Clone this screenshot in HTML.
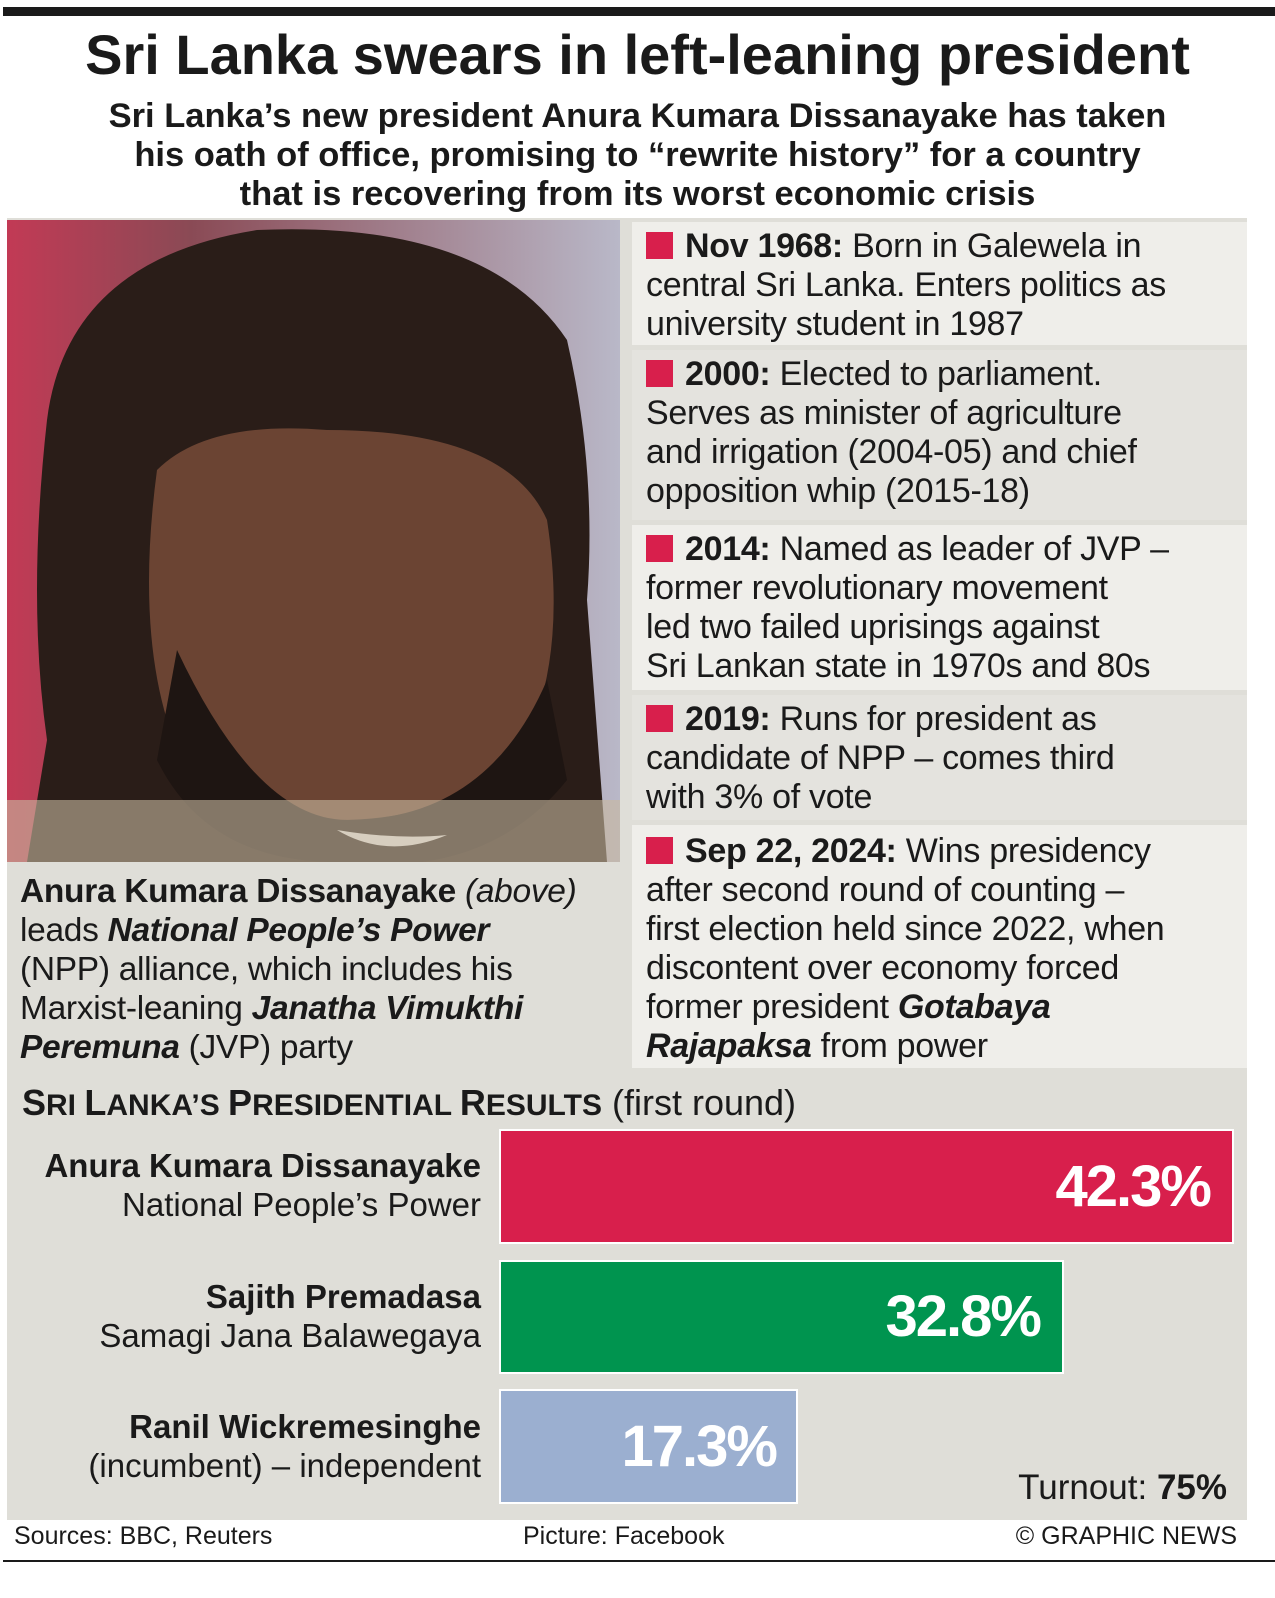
<!DOCTYPE html>
<html><head><meta charset="utf-8"><style>
body{margin:0;width:1275px;height:1598px;background:#fff;position:relative;font-family:"Liberation Sans",sans-serif;color:#1a1a1a;overflow:hidden}
.a{position:absolute}
.n{font-family:"Liberation Sans Narrow","Liberation Sans",sans-serif}
.tl{position:absolute;left:632px;width:615px;font-size:34px;line-height:39px;padding-left:14px;box-sizing:border-box;white-space:nowrap;letter-spacing:-0.3px}
.sq{display:inline-block;width:27px;height:27px;background:#d81f4c;margin-right:12px;vertical-align:-2px}
.bar{position:absolute;left:499px;border:2px solid #fff;box-sizing:border-box;color:#fff;font-weight:bold;font-size:58px;text-align:right;letter-spacing:-2px}
.lab{position:absolute;right:794px;text-align:right;font-size:33px;line-height:39px;white-space:nowrap}
</style></head><body>
<div class="a" style="left:3px;top:7px;width:1272px;height:9px;background:#1a1a1a"></div>
<div class="a n" style="left:0;top:22px;width:1275px;text-align:center;font-size:56px;font-weight:bold;line-height:66px">Sri Lanka swears in left-leaning president</div>
<div class="a n" style="left:0;top:97px;width:1275px;text-align:center;font-size:34.5px;font-weight:bold;line-height:39px">Sri Lanka’s new president Anura Kumara Dissanayake has taken<br>his oath of office, promising to “rewrite history” for a country<br>that is recovering from its worst economic crisis</div>
<div class="a" style="left:7px;top:218px;width:1240px;height:1302px;background:#dfded8"></div>
<svg class="a" style="left:7px;top:220px" width="613" height="642" viewBox="0 0 613 642">
<defs><linearGradient id="bg" x1="0" y1="0" x2="1" y2="0"><stop offset="0" stop-color="#c23a55"/><stop offset="0.3" stop-color="#8a4a55"/><stop offset="1" stop-color="#b9b8c8"/></linearGradient></defs>
<rect width="613" height="642" fill="url(#bg)"/>
<path d="M20 642 L40 520 Q20 380 40 200 Q60 40 250 10 Q480 0 560 120 Q590 250 580 380 L600 642Z" fill="#2a1d18"/>
<path d="M150 250 Q200 200 320 210 Q500 210 540 300 Q560 430 520 520 Q460 600 330 600 Q200 600 160 500 Q130 400 150 250Z" fill="#6b4433"/>
<path d="M170 430 Q250 600 340 600 Q480 600 540 460 L560 560 Q480 660 330 642 Q200 642 150 540Z" fill="#1e1512"/>
<path d="M330 610 Q380 640 440 615 Q390 620 330 610Z" fill="#eee"/>
<rect x="0" y="580" width="613" height="62" fill="#c8b9a0" opacity="0.6"/>
</svg>
<div class="a" style="left:20px;top:872px;font-size:33.5px;line-height:39px;white-space:nowrap;letter-spacing:-0.3px">
<b>Anura Kumara Dissanayake</b> <i>(above)</i><br>leads <b><i>National People’s Power</i></b><br>(NPP) alliance, which includes his<br>Marxist-leaning <b><i>Janatha Vimukthi</i></b><br><b><i>Peremuna</i></b> (JVP) party</div>
<div class="tl" style="top:222px;height:123px;background:#efeeea;padding-top:5px"><span class="sq"></span><b>Nov 1968:</b> Born in Galewela in<br>central Sri Lanka. Enters politics as<br>university student in 1987</div>
<div class="tl" style="top:350px;height:170px;background:#e4e3de;padding-top:5px"><span class="sq"></span><b>2000:</b> Elected to parliament.<br>Serves as minister of agriculture<br>and irrigation (2004-05) and chief<br>opposition whip (2015-18)</div>
<div class="tl" style="top:525px;height:165px;background:#efeeea;padding-top:5px"><span class="sq"></span><b>2014:</b> Named as leader of JVP –<br>former revolutionary movement<br>led two failed uprisings against<br>Sri Lankan state in 1970s and 80s</div>
<div class="tl" style="top:695px;height:125px;background:#e4e3de;padding-top:5px"><span class="sq"></span><b>2019:</b> Runs for president as<br>candidate of NPP – comes third<br>with 3% of vote</div>
<div class="tl" style="top:825px;height:243px;background:#efeeea;padding-top:7px"><span class="sq"></span><b>Sep 22, 2024:</b> Wins presidency<br>after second round of counting –<br>first election held since 2022, when<br>discontent over economy forced<br>former president <b><i>Gotabaya</i></b><br><b><i>Rajapaksa</i></b> from power</div>
<div class="a" style="left:22px;top:1082px;font-size:36px;line-height:42px;white-space:nowrap"><b>S<span style="font-size:30px">RI </span>L<span style="font-size:30px">ANKA’S </span>P<span style="font-size:30px">RESIDENTIAL </span>R<span style="font-size:30px">ESULTS</span></b> (first round)</div>
<div class="bar" style="top:1129px;width:735px;height:115px;background:#d81f4c;line-height:111px;padding-right:22px">42.3%</div>
<div class="bar" style="top:1260px;width:565px;height:114px;background:#00944f;line-height:110px;padding-right:22px">32.8%</div>
<div class="bar" style="top:1389px;width:299px;height:115px;background:#9bafd0;line-height:111px;padding-right:20px">17.3%</div>
<div class="lab" style="top:1146px"><b>Anura Kumara Dissanayake</b><br>National People’s Power</div>
<div class="lab" style="top:1277px"><b>Sajith Premadasa</b><br>Samagi Jana Balawegaya</div>
<div class="lab" style="top:1407px"><b>Ranil Wickremesinghe</b><br>(incumbent) – independent</div>
<div class="a n" style="right:48px;top:1468px;font-size:35px">Turnout: <b>75%</b></div>
<div class="a" style="left:14px;top:1522px;font-size:25px">Sources: BBC, Reuters</div>
<div class="a" style="left:523px;top:1522px;font-size:25px">Picture: Facebook</div>
<div class="a" style="right:38px;top:1522px;font-size:25px">© GRAPHIC NEWS</div>
<div class="a" style="left:3px;top:1560px;width:1272px;height:2px;background:#1a1a1a"></div>
</body></html>
